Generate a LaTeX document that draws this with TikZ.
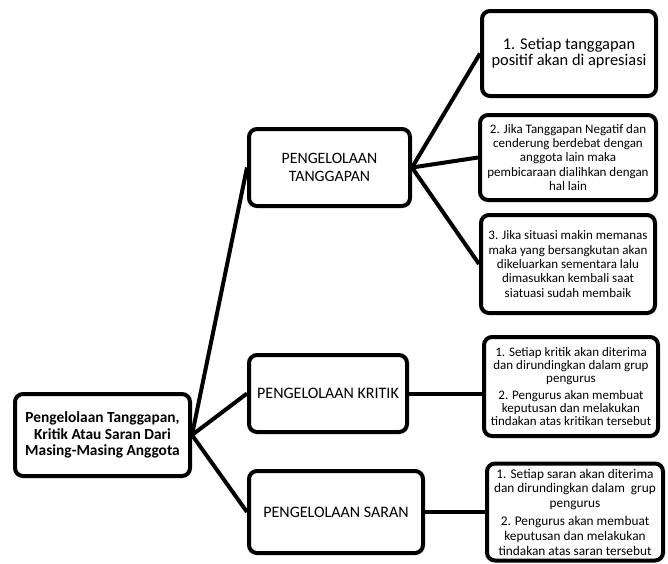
\documentclass[tikz,border=0pt]{standalone}
\usepackage{fontspec}
\setmainfont{Carlito}
\usepackage{tikz}

\begin{document}
\begin{tikzpicture}[x=1pt,y=-1pt,
  kotak/.style={draw, line width=4pt, rounded corners=8pt, align=center, inner sep=0pt},
  garis/.style={line width=4pt}]
\useasboundingbox (0,0) rectangle (668,563);
% kotak utama
\node[kotak, minimum width=175pt, minimum height=82pt, font=\fontsize{15.4}{16.7}\selectfont\bfseries] (akar) at (102.5,435)
  {Pengelolaan Tanggapan,\\ Kritik Atau Saran Dari\\ Masing-Masing Anggota};
% cabang
\node[kotak, minimum width=161pt, minimum height=77pt, font=\fontsize{15.8}{17.7}\selectfont] (tanggapan) at (329.5,167.5)
  {PENGELOLAAN\\ TANGGAPAN};
\node[kotak, minimum width=158pt, minimum height=77pt, font=\fontsize{16}{17.7}\selectfont] (kritik) at (328,393.5)
  {PENGELOLAAN KRITIK};
\node[kotak, minimum width=174pt, minimum height=82pt, font=\fontsize{16}{17.7}\selectfont] (saran) at (336,512)
  {PENGELOLAAN SARAN};
% daun
\node[kotak, minimum width=174pt, minimum height=85pt, font=\fontsize{16.4}{16}\selectfont] (t1) at (569,53.5)
  {1. Setiap tanggapan\\ positif akan di apresiasi};
\node[kotak, minimum width=176pt, minimum height=85pt, font=\fontsize{13}{14.2}\selectfont] (t2) at (568,157.5)
  {2. Jika Tanggapan Negatif dan\\ cenderung berdebat dengan\\ anggota lain maka\\ pembicaraan dialihkan dengan\\ hal lain};
\node[kotak, minimum width=174pt, minimum height=98pt, font=\fontsize{13}{14.4}\selectfont] (t3) at (568,264)
  {3. Jika situasi makin memanas\\ maka yang bersangkutan akan\\ dikeluarkan sementara lalu\\ dimasukkan kembali saat\\ siatuasi sudah membaik};
\node[kotak, minimum width=174pt, minimum height=99pt, font=\fontsize{13}{13.3}\selectfont] (k1) at (571,386.5)
  {1. Setiap kritik akan diterima\\ dan dirundingkan dalam grup\\ pengurus\\[3pt] 2. Pengurus akan membuat\\ keputusan dan melakukan\\ tindakan atas kritikan tersebut};
\node[kotak, minimum width=176pt, minimum height=97pt, font=\fontsize{13.3}{14.8}\selectfont] (s1) at (575,512)
  {1. Setiap saran akan diterima\\ dan dirundingkan dalam \ grup\\ pengurus\\[3pt] 2. Pengurus akan membuat\\ keputusan dan melakukan\\ tindakan atas saran tersebut};
% garis penghubung
\draw[garis] (akar.east) -- (tanggapan.west);
\draw[garis] (akar.east) -- (kritik.west);
\draw[garis] (akar.east) -- (saran.west);
\draw[garis] (tanggapan.east) -- (t1.west);
\draw[garis] (tanggapan.east) -- (t2.west);
\draw[garis] (tanggapan.east) -- (t3.west);
\draw[garis] (kritik.east) -- (kritik.east -| k1.west);
\draw[garis] (saran.east) -- (saran.east -| s1.west);
\end{tikzpicture}
\end{document}
